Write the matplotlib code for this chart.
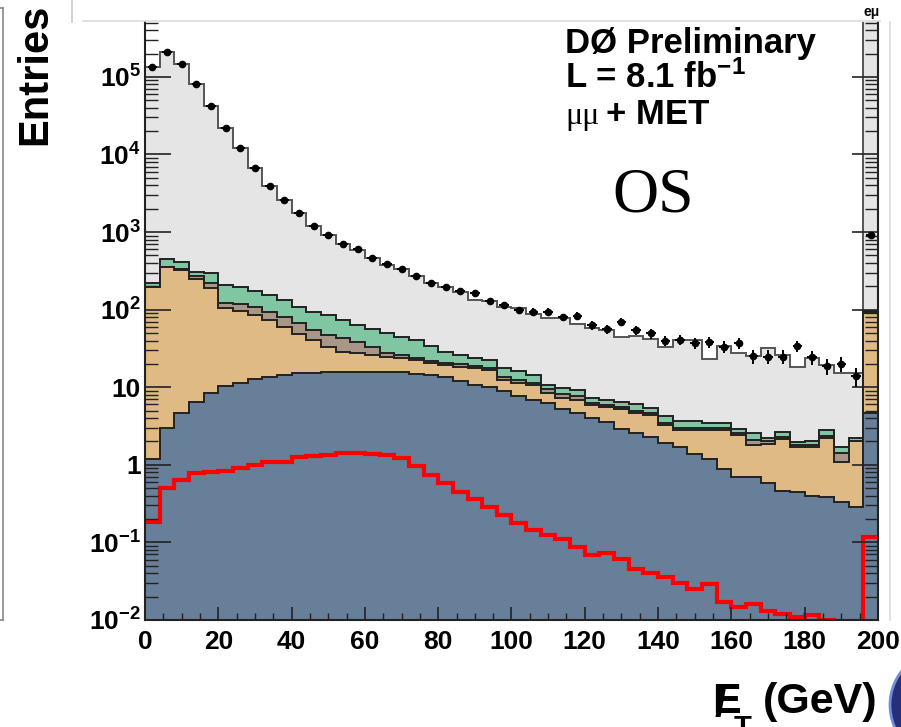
import numpy as np
import matplotlib.pyplot as plt
from matplotlib.ticker import FixedLocator, MultipleLocator, NullFormatter
from matplotlib.lines import Line2D
from matplotlib.patches import Circle

plt.rcParams['font.family'] = 'Liberation Sans'
plt.rcParams['font.weight'] = 'bold'
plt.rcParams['mathtext.fontset'] = 'custom'
plt.rcParams['mathtext.rm'] = 'Liberation Sans:bold'
plt.rcParams['mathtext.it'] = 'Liberation Sans:bold'
plt.rcParams['mathtext.bf'] = 'Liberation Sans:bold'

# 4 GeV bins, last bin holds the overflow
edges = np.arange(0, 201, 4)

# per-process yields, stacked bottom -> top
multijet = [1.2, 2.95, 4.6, 6.5, 8.5, 10.4, 11.4, 12.6, 13.4, 14.4,
            15.1, 15.4, 15.6, 15.7, 15.8, 15.8, 15.7, 15.5, 15.0, 14.4,
            13.5, 12.0, 10.7, 10.2, 8.9, 7.6, 6.8, 6.2, 5.3, 4.6,
            4.0, 3.6, 2.9, 2.6, 2.26, 1.93, 1.71, 1.38, 1.18, 0.875,
            0.69, 0.69, 0.58, 0.46, 0.44, 0.40, 0.39, 0.33, 0.29, 4.6]
wjets = [194, 347, 320, 243.5, 181.5, 93.6, 85.6, 72.4, 60.1, 44.6,
         33.4, 25.1, 17.1, 13.0, 12.2, 10.2, 8.8, 8.0, 7.4, 6.0,
         5.9, 6.5, 6.8, 6.5, 3.6, 3.8, 3.9, 2.2, 1.9, 2.2,
         1.9, 1.9, 2.3, 2.0, 2.14, 1.33, 1.09, 1.42, 1.67, 1.975,
         1.73, 1.11, 1.29, 1.68, 1.27, 1.31, 1.81, 0.77, 1.71, 85.4]
ttbar = [2, 5, 5, 20, 30, 19, 21, 24, 20.5, 22,
         18, 14.1, 14.3, 14, 10.7, 7.3, 3.4, 2.5, 1.6, 1.6,
         1.4, 1.3, 1.1, 1.1, 1.0, 0.9, 0.8, 1.1, 1.1, 0.8,
         0.4, 0.4, 0.4, 0.4, 0.3, 0.24, 0.2, 0.2, 0.15, 0.15,
         0.13, 0.3, 0.13, 0.16, 0.09, 0.09, 0.15, 0.3, 0.05, 3]
diboson = [25, 90, 84, 40, 74, 84, 79, 66, 60, 52,
           42.5, 39.4, 38, 30.3, 24.3, 23.7, 21.6, 18, 16.5, 12,
           7.9, 6.2, 5.0, 4.6, 4.0, 4.0, 2.9, 1.2, 1.4, 1.6,
           0.9, 0.9, 0.9, 1.0, 0.7, 0.7, 0.7, 0.7, 0.5, 0.5,
           0.32, 0.45, 0.2, 0.37, 0.19, 0.2, 0.45, 0.31, 0.15, 3]
zmumu = [134800, 209600, 145600, 80690, 41706, 21793, 11803, 6425, 3796, 2467,
         1641, 1106, 825, 627, 527, 403, 330.5, 286, 229.5, 188,
         165.3, 144, 111.4, 106.6, 90.5, 88.7, 73.6, 67.3, 67.3, 55.8,
         50.8, 48.2, 38.1, 40, 36, 29.1, 36.8, 36.8, 19.4, 30.5,
         24.5, 22.65, 29.4, 23.3, 16, 21.5, 16.5, 13.7, 12.9, 2e6]

data = [135000, 210000, 146000, 81000, 42000, 22000, 12000, 6600, 3950, 2600,
        1750, 1200, 910, 700, 600, 457, 386, 331, 271, 222,
        194, 175, 165, 130, 116, 99, 94, 94, 80, 83,
        63, 56, 70, 55, 49.5, 40, 41, 37.4, 38.6, 33.3,
        37.4, 25.2, 24.8, 24.8, 34, 24.3, 18.8, 20, 13.9, 920]

signal = [0.185, 0.50, 0.64, 0.78, 0.80, 0.84, 0.90, 1.0, 1.08, 1.10,
          1.25, 1.30, 1.33, 1.41, 1.41, 1.38, 1.32, 1.21, 0.97, 0.75,
          0.58, 0.44, 0.36, 0.29, 0.225, 0.18, 0.144, 0.124, 0.111, 0.088,
          0.069, 0.072, 0.061, 0.046, 0.040, 0.0355, 0.030, 0.025, 0.029, 0.0172,
          0.0148, 0.016, 0.0132, 0.012, 0.011, 0.0115, 0.010, 0.0093, 0.009, 0.118]

stack = [multijet, wjets, ttbar, diboson, zmumu]
fills = ['#677f98', '#dfba85', '#a89686', '#80c6a2', '#e5e5e5']
lines = ['#222222', '#222222', '#222222', '#222222', '#555555']

W, H = 901, 727

def fx(x):
    return x / W

def fy(y):
    return 1 - y / H

fig = plt.figure(figsize=(W / 100, H / 100), dpi=100)
ax = fig.add_axes([fx(145), fy(620), (878 - 145) / W, (620 - 22) / H])

cum = np.cumsum(np.array(stack, dtype=float), axis=0)
for i in reversed(range(len(stack))):
    ax.stairs(cum[i], edges, baseline=1e-4, fill=True, color=fills[i], lw=0)
    ax.stairs(cum[i], edges, baseline=None, color=lines[i], lw=1.4)

ax.stairs(signal, edges, baseline=None, color='#ff0000', lw=3)

centers = 0.5 * (edges[:-1] + edges[1:])
data = np.array(data)
ax.errorbar(centers, data, yerr=np.sqrt(data), xerr=1.3, fmt='o', ms=4.5,
            color='black', elinewidth=1.4, capsize=0)

ax.set_yscale('log')
ax.set_xlim(0, 200)
ax.set_ylim(1e-2, 5.1e5)

ax.yaxis.set_major_locator(FixedLocator([1e-2, 1e-1, 1, 10, 1e2, 1e3, 1e4, 1e5]))
ax.set_yticklabels([r'$10^{-2}$', r'$10^{-1}$', '1', '10', r'$10^{2}$',
                    r'$10^{3}$', r'$10^{4}$', r'$10^{5}$'])
minor = [m * 10.0 ** e for e in range(-2, 6) for m in range(2, 10)]
ax.yaxis.set_minor_locator(FixedLocator(minor))
ax.yaxis.set_minor_formatter(NullFormatter())
ax.xaxis.set_major_locator(MultipleLocator(20))
ax.xaxis.set_minor_locator(MultipleLocator(5))

ax.tick_params(axis='y', which='major', direction='in', length=19, width=1.2,
               left=True, right=True, labelsize=19, pad=3, color='#222222')
ax.tick_params(axis='y', which='minor', direction='in', length=9.5, width=1.0,
               left=True, right=True, color='#222222')
ax.tick_params(axis='x', which='major', direction='in', length=9.5, width=1.2,
               top=False, labelsize=19, pad=7, color='#222222')
ax.tick_params(axis='x', which='minor', direction='in', length=5, width=1.0,
               top=False, color='#222222')
for s in ['left', 'bottom', 'right']:
    ax.spines[s].set_linewidth(1.5)
    ax.spines[s].set_color('#222222')
ax.spines['top'].set_visible(False)

# labels and captions
fig.text(fx(35), fy(74), 'Entries', rotation=90, ha='center', va='center',
         fontsize=30, weight='bold')
fig.text(fx(565), fy(53), 'DØ Preliminary', fontsize=25, weight='bold', va='baseline')
fig.text(fx(565), fy(88), r'L = 8.1 fb$^{-1}$', fontsize=25, weight='bold', va='baseline')
fig.text(fx(565), fy(124), 'μμ', fontsize=23, family='Liberation Serif',
         weight='normal', va='baseline')
fig.text(fx(606), fy(124), '+ MET', fontsize=25, weight='bold', va='baseline')
fig.text(fx(612), fy(212), 'OS', fontsize=46, family='Liberation Serif',
         weight='normal', va='baseline')

# missing-ET axis title
fig.text(fx(712), fy(713), 'E', fontsize=31, weight='bold', va='baseline')
fig.text(fx(715), fy(716), '/', fontsize=31, weight='bold', va='baseline')
fig.text(fx(734), fy(736), 'T', fontsize=21, weight='bold', va='baseline')
fig.text(fx(763), fy(713), '(GeV)', fontsize=31, weight='bold', va='baseline')

fig.text(fx(872), fy(16), 'eμ', fontsize=10, weight='bold', ha='center', va='baseline')

# frame pieces from the neighbouring panels
frame = [([3, 3], [8, 620], '#888888'), ([0, 3], [8, 8], '#888888'),
         ([0, 3], [620, 620], '#888888'), ([72, 72], [0, 22], '#cccccc'),
         ([83, 880], [21, 21], '#dddddd'), ([890, 890], [22, 620], '#dddddd')]
for xs, ys, c in frame:
    fig.add_artist(Line2D([fx(v) for v in xs], [fy(v) for v in ys], color=c, lw=1.2))

fig.add_artist(Circle((9.45, 0.22), 0.55, transform=fig.dpi_scale_trans,
                      facecolor='#26307a', edgecolor='#6f8fd8', lw=2))

fig.savefig('out.png', dpi=100)
